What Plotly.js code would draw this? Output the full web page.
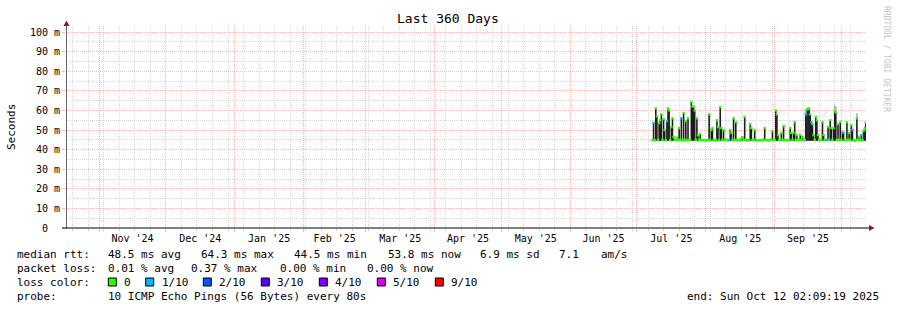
<!DOCTYPE html>
<html><head><meta charset="utf-8">
<script src="https://cdn.plot.ly/plotly-3.0.1.min.js"></script>
<style>html,body{margin:0;padding:0;background:#fff;}#chart{width:897px;height:310px;}</style>
</head><body><div id="chart"></div>
<script>
// ---------- data ----------
const rangeStart = '2024-10-17 02:09:19';
const rangeEnd   = '2025-10-12 02:09:19';
const sampleStartUTC = Date.UTC(2025, 6, 7, 0, 0, 0);   // first 12h sample: 2025-07-07 00:00
const sampleStepHours = 12;

// median rtt (ms) per 12h sample
const medianRtt = [
  null, null, 45, 53.6, 44.8, 61, 57, 45, 53.5, 55,
  58, 45, 55.6, 50, 44.8, 54.6, 61, 60, 45, 51.5,
  56, 46.4, 45, 44.8, 46, 45, 51, 45, 56, 45,
  58.7, 45, 54.6, 44.8, 56, 45, 45, 64.3, 62, 62,
  60, 45, 56, 47.4, 45, 48, 45, 44.8, 44.8, 44.8,
  44.8, 44.8, 45, 58, 45, 50, 51, 45, 44.8, 45,
  55, 51.5, 45, 61.7, 51, 45, 50, 44.8, 45, 45,
  44.8, 44.8, 50, 48.5, 45, 56, 45, 54, 44.8, 44.8,
  45, 45, 45.5, 46.4, 45, 56.7, 45, 44.8, 44.8, 45,
  53, 51, 45, 45, 50, 44.8, 44.8, 44.8, 44.8, 44.8,
  44.8, 45, 45, 51, 45, 44.8, 44.8, 44.8, 45, 45,
  49.5, 45, 45, 60, 58, 47.4, 45, 45, 48.5, 45,
  52, 45, 44.8, 44.8, 44.8, 45, 51, 48.5, 45, 48.5,
  54, 45, 47.4, 45, 45, 47.5, 45, 46.5, 45, 44.8,
  58, 60.5, 60.5, 61, 58, 54, 53, 47.4, 45, 56.7,
  55, 47.4, 45, 44.8, 45, 54, 47.4, 45, 44.8, 45,
  51.5, 45, 55, 51, 45, 51, 59.7, 59, 45, 53,
  45, 54, 45, 49, 48.5, 45, 45, 54, 45, 48.5,
  45, 52.5, 50, 44.8, 44.5, 45, 56, 45, 46.5, 45,
  47.4, 45, 49.5, 50.5, 53.8
];
const smokeFloor = 44.5;                                  // lowest ping (ms)
const smokeCapDates  = ['2025-09-15 00:00', '2025-09-28 00:00', '2025-09-28 12:00', '2025-10-08 00:00', '2025-10-11 12:00'];
const smokeCapValues = [60.5, 62.7, 62, 58.5, 52];
const lossDates  = ['2025-07-08 12:00', '2025-07-14 12:00', '2025-07-21 00:00', '2025-08-11 12:00', '2025-08-20 00:00',
                    '2025-08-23 12:00', '2025-09-15 00:00', '2025-09-16 00:00', '2025-09-17 12:00', '2025-09-24 12:00',
                    '2025-10-02 00:00', '2025-10-06 00:00', '2025-10-10 00:00'];
const lossTenths = [1, 1, 1, 1, 1, 1, 1, 1, 1, 1, 1, 1, 1];
const lossLegendLabels = ['0', '1/10', '2/10', '3/10', '4/10', '5/10', '9/10'];
const lossLegendLevels = [0, 1, 2, 3, 4, 5, 9];
const lossColorByLevel = {0: '#26ff00', 1: '#00b8ff', 2: '#0059ff', 3: '#5e00ff', 4: '#7e00ff', 5: '#dd00ff', 9: '#ff0000'};
const yTickVals = [0, 10, 20, 30, 40, 50, 60, 70, 80, 90, 100];
const yTickText = ['0\u00a0\u00a0', '10 m', '20 m', '30 m', '40 m', '50 m', '60 m', '70 m', '80 m', '90 m', '100 m'];
const statsRtt  = ['median rtt:', '48.5 ms avg', '64.3 ms max', '44.5 ms min', '53.8 ms now', '6.9 ms sd', '7.1', 'am/s'];
const statsLoss = ['packet loss:', '0.01 % avg', '0.37 % max', '0.00 % min', '0.00 % now'];
const probeText = ['probe:', '10 ICMP Echo Pings (56 Bytes) every 80s'];
const endText = 'end: Sun Oct 12 02:09:19 2025';
const titleText = 'Last 360 Days';

// ---------- build ----------
function fmt(ms) {
  const d = new Date(ms), p = n => String(n).padStart(2, '0');
  return d.getUTCFullYear() + '-' + p(d.getUTCMonth() + 1) + '-' + p(d.getUTCDate()) + ' ' + p(d.getUTCHours()) + ':' + p(d.getUTCMinutes());
}
const times = medianRtt.map((v, i) => fmt(sampleStartUTC + i * sampleStepHours * 3600e3));

const smokeX = [], smokeY = [];
times.forEach((t, i) => { if (medianRtt[i] != null) { smokeX.push(t, t, null); smokeY.push(smokeFloor, medianRtt[i], null); } });
const capX = [], capY = [];
smokeCapDates.forEach((t, k) => { const i = times.indexOf(t); capX.push(t, t, null); capY.push(medianRtt[i], smokeCapValues[k], null); });
const markerColors = times.map(t => { const k = lossDates.indexOf(t); return lossColorByLevel[k >= 0 ? lossTenths[k] : 0]; });

const L = 66, W = 800, B = 228, H = 202;
const px = x => (x - L) / W, py = y => (B - y) / H;
const MONO = 'DejaVu Sans Mono, monospace';

const traces = [
  {type: 'scatter', mode: 'lines', x: smokeX, y: smokeY, line: {color: '#1c1c1c', width: 1.6}, hoverinfo: 'skip'},
  {type: 'scatter', mode: 'lines', x: capX, y: capY, line: {color: '#b0b0b0', width: 1.6}, hoverinfo: 'skip'},
  {type: 'scatter', mode: 'markers', x: times, y: medianRtt, marker: {symbol: 'square', size: 2.4, color: markerColors, line: {width: 0}}, hoverinfo: 'skip'}
];

const annotations = [];
function txt(text, x, y, extra) {
  annotations.push(Object.assign({text: text, xref: 'paper', yref: 'paper', x: px(x), y: py(y), xanchor: 'left', yanchor: 'middle',
    showarrow: false, borderpad: 0, font: {family: MONO, size: 11, color: '#000'}}, extra || {}));
}
const rttX = [16, 107.3, 200, 293.3, 386.7, 479.3, 558.3, 600];
statsRtt.forEach((s, k) => txt(s, rttX[k], 254));
const lossX = [16, 107.3, 190, 279.3, 365.7];
statsLoss.forEach((s, k) => txt(s, lossX[k], 268));
txt('loss color:', 16, 282);
const sqX = [108.3, 145.7, 203.3, 261.3, 319.3, 377.3, 435.3];
lossLegendLabels.forEach((s, k) => txt(s, sqX[k] + 15, 282));
txt(probeText[0], 16, 296);
txt(probeText[1], 107.3, 296);
txt(endText, 880, 296, {xanchor: 'right'});
txt(titleText, 448, 19, {xanchor: 'center', font: {family: MONO, size: 13, color: '#000'}});
txt('Seconds', 11, 127, {xanchor: 'center', textangle: -90});
txt('RRDTOOL / TOBI OETIKER', 887, 59, {xanchor: 'center', textangle: 90, font: {family: MONO, size: 8, color: '#c4c4c4'}});

const shapes = [];
lossLegendLevels.forEach((lv, k) => shapes.push({type: 'rect', xref: 'paper', yref: 'paper', x0: px(sqX[k]), x1: px(sqX[k] + 8), y0: py(286), y1: py(278),
  fillcolor: lossColorByLevel[lv], line: {color: '#000', width: 1}}));
// axes + arrows
shapes.push({type: 'line', xref: 'paper', yref: 'paper', x0: px(66.5), x1: px(66.5), y0: py(228), y1: py(25), line: {color: '#666', width: 1}, layer: 'above'});
shapes.push({type: 'line', xref: 'paper', yref: 'paper', x0: px(62), x1: px(870), y0: py(228), y1: py(228), line: {color: '#000', width: 1}, layer: 'above'});
function tri(pts) { return 'M' + pts.map(p => px(p[0]) + ',' + py(p[1])).join(' L') + ' Z'; }
shapes.push({type: 'path', xref: 'paper', yref: 'paper', path: tri([[63.5, 26], [66.5, 20.5], [69.5, 26]]), fillcolor: '#8e1b1b', line: {width: 0}, layer: 'above'});
shapes.push({type: 'path', xref: 'paper', yref: 'paper', path: tri([[869, 225], [874.5, 228], [869, 231]]), fillcolor: '#8e1b1b', line: {width: 0}, layer: 'above'});

const layout = {
  width: 897, height: 310, paper_bgcolor: '#fff', plot_bgcolor: '#fff', showlegend: false,
  margin: {l: L, r: 897 - L - W, t: B - H, b: 310 - B, pad: 0},
  font: {family: MONO, size: 10, color: '#000'},
  xaxis: {type: 'date', range: [rangeStart, rangeEnd], dtick: 'M1', tick0: '2024-11-01', ticklabelmode: 'period', tickformat: "%b '%y",
    showgrid: true, gridcolor: '#f4b8b8', griddash: '1px,1px', gridwidth: 1, zeroline: false, showline: false,
    ticks: 'outside', ticklen: 3, tickcolor: '#f4b8b8', ticklabelstandoff: -2, tickfont: {family: MONO, size: 10, color: '#000'},
    minor: {dtick: 7 * 86400000, tick0: '2024-10-20', showgrid: true, gridcolor: '#d6d6d6', griddash: '1px,1px', ticks: 'outside', ticklen: 2, tickcolor: '#d0d0d0'},
    fixedrange: true},
  yaxis: {range: [0, 100 * 202 / 196], tickvals: yTickVals, ticktext: yTickText, showgrid: true, gridcolor: '#f4b8b8', griddash: '1px,1px', gridwidth: 1,
    zeroline: false, showline: false, ticks: 'outside', ticklen: 3, tickcolor: '#f4b8b8', tickfont: {family: MONO, size: 10, color: '#000'},
    minor: {dtick: 5, tick0: 0, showgrid: true, gridcolor: '#d6d6d6', griddash: '1px,1px'}, fixedrange: true},
  annotations: annotations, shapes: shapes
};
Plotly.newPlot('chart', traces, layout, {displayModeBar: false, staticPlot: true});
</script></body></html>
